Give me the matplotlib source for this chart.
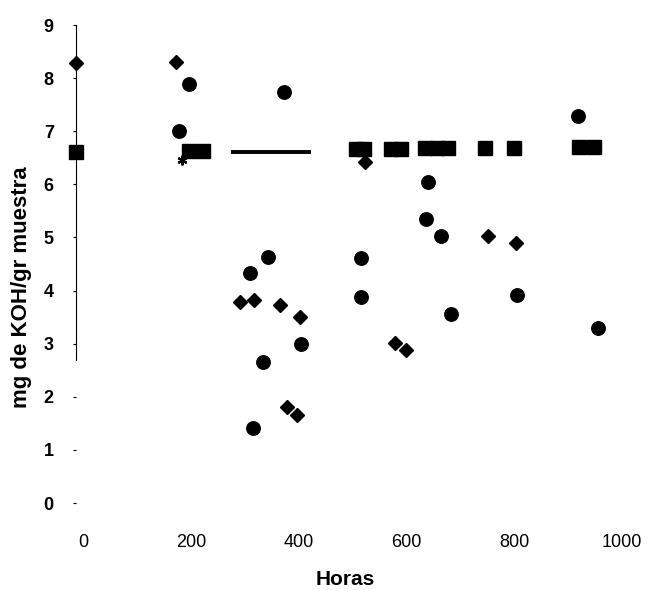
"""
Acidity (mg KOH / g sample) vs. operating hours, several sample series.
"""

import matplotlib.pyplot as plt
import matplotlib.transforms as mtransforms

# 0. Data
diamond_h = [0, 186, 304, 330, 378, 416, 391, 410, 536, 592, 612, 764, 816]
diamond_v = [8.29, 8.31, 3.79, 3.82, 3.73, 3.50, 1.81, 1.66, 6.42, 3.01, 2.88, 5.03, 4.90]

circle_h = [210, 191, 386, 323, 356, 347, 417, 328, 529, 529, 653, 649, 677, 696, 818, 931, 968]
circle_v = [7.89, 7.01, 7.74, 4.33, 4.63, 2.66, 2.99, 1.41, 3.88, 4.61, 6.05, 5.35, 5.03,
            3.56, 3.92, 7.29, 3.30]

square_h = [0, 210, 236, 519, 534, 584, 603, 647, 670, 690, 759, 813, 933, 961]
square_v = [6.61, 6.62, 6.62, 6.66, 6.66, 6.67, 6.67, 6.69, 6.69, 6.69, 6.69, 6.69, 6.71, 6.71]

line_h = [288, 436]
line_v = [6.61, 6.61]

star_h = [197]
star_v = [6.46]

x_ticks = [0, 200, 400, 600, 800, 1000]
y_ticks = list(range(0, 10))

# 1. Plot
plt.rcParams.update({
    'font.family': ['Liberation Sans', 'DejaVu Sans'],
    'font.size': 13,
})

fig = plt.figure(figsize=(6.52, 5.9), dpi=100)
ax = fig.add_axes([76 / 652, 87 / 590, 539 / 652, 478 / 590])

kw = dict(linestyle='none', color='black', clip_on=False)
ax.plot(square_h, square_v, marker='s', markersize=10, **kw)
ax.plot(circle_h, circle_v, marker='o', markersize=9.7, **kw)
ax.plot(diamond_h, diamond_v, marker='D', markersize=7.5, **kw)
ax.plot(star_h, star_v, marker=(6, 2, 0), markersize=7, markeredgewidth=1.6, **kw)
ax.plot(line_h, line_v, color='black', linewidth=2.8, solid_capstyle='butt')

ax.set_xlim(0, 1000)
ax.set_ylim(0, 9)
ax.set_xticks(x_ticks)
ax.set_yticks(y_ticks)

# only a faded left axis line in the scan, no frame
for side in ('top', 'right', 'bottom'):
    ax.spines[side].set_visible(False)
ax.spines['left'].set_bounds(2.7, 9)
ax.spines['left'].set_linewidth(0.8)

ax.tick_params(axis='y', direction='out', length=2, width=0.8, pad=14)
ax.tick_params(axis='x', length=0, pad=22)
for lab in ax.get_yticklabels():
    lab.set_fontweight('bold')
# x labels sit a little right of their ticks in the scan
shift = mtransforms.ScaledTranslation(7 / 100, 0, fig.dpi_scale_trans)
for lab in ax.get_xticklabels():
    lab.set_transform(lab.get_transform() + shift)

ax.set_xlabel('Horas', fontsize=15, fontweight='bold', labelpad=14)
ax.set_ylabel('mg de KOH/gr muestra', fontsize=16, fontweight='bold')
ax.yaxis.set_label_coords(-0.082, 0.452)

fig.savefig('out.png', dpi=100)
